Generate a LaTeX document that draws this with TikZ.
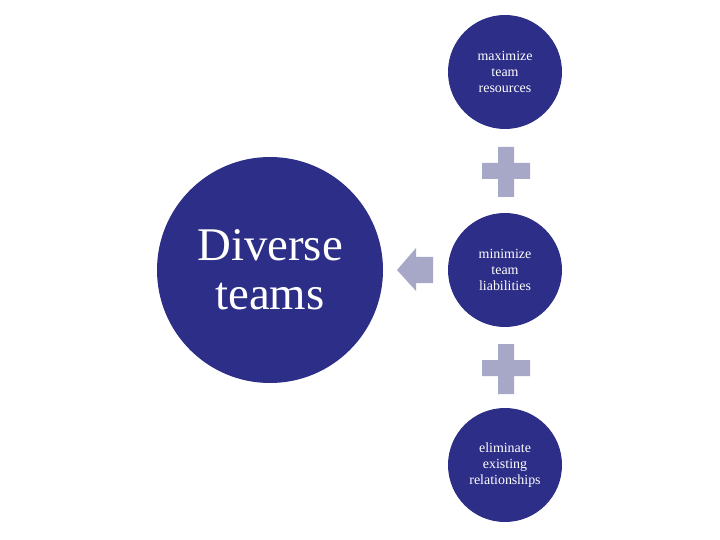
\documentclass[tikz,border=0pt]{standalone}
\usepackage{fontspec}
\setmainfont{Liberation Serif}
\definecolor{teamblue}{RGB}{44,46,136}
\definecolor{plusgray}{RGB}{167,167,200}

\begin{document}
\begin{tikzpicture}[x=1bp,y=-1bp,
  bigcirc/.style={circle,fill=teamblue,text=white,minimum size=226bp,inner sep=0pt,align=center,font=\fontsize{47}{49}\selectfont},
  smallcirc/.style={circle,fill=teamblue,text=white,minimum size=114bp,inner sep=0pt,align=center,font=\fontsize{14}{16}\selectfont}]
\useasboundingbox (0,0) rectangle (720,540);
\node[bigcirc] (diverse) at (270,270) {Diverse\\teams};
\node[smallcirc] (maximize) at (505,72) {maximize\\team\\resources};
\node[smallcirc] (minimize) at (505,270) {minimize\\team\\liabilities};
\node[smallcirc] (eliminate) at (505,465) {eliminate\\existing\\relationships};
% plus signs between the small circles
\fill[plusgray] (482,163) rectangle (530,179) (498,147) rectangle (514,197);
\fill[plusgray] (482,360) rectangle (530,376) (498,344) rectangle (514,394);
% arrow towards the big circle
\fill[plusgray] (397,270) -- (416,248) -- (416,257) -- (433,257) -- (433,283) -- (416,283) -- (416,291) -- cycle;
\end{tikzpicture}
\end{document}
